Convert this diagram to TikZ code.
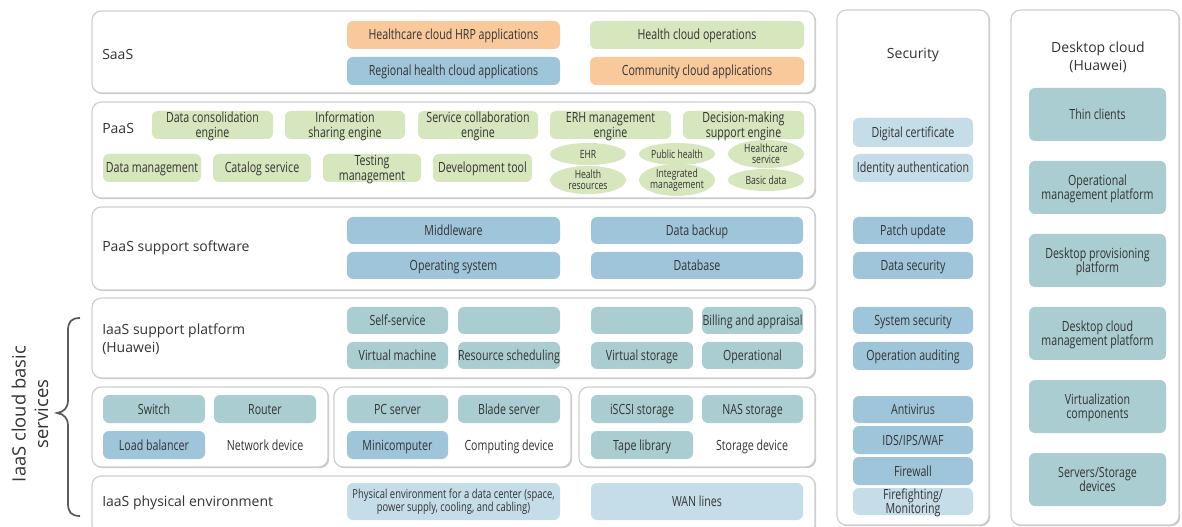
\documentclass[tikz,border=0pt]{standalone}
\usepackage{fontspec}
\setmainfont{Open Sans}
\newfontfamily\condf{Open Sans}[FakeStretch=0.76]
\usetikzlibrary{fit,shapes.geometric,shadows}

\definecolor{ink}{HTML}{333333}
\definecolor{panelline}{HTML}{CFCFCF}
\definecolor{orangeF}{HTML}{F9C99C}
\definecolor{blueF}{HTML}{9FC5DA}
\definecolor{greenF}{HTML}{D6E6BD}
\definecolor{tealF}{HTML}{AACDD1}
\definecolor{lblueF}{HTML}{C4DDE9}
\definecolor{braceC}{HTML}{5A5A5A}

% struts that keep capitals centred in a box, descenders or not
\newcommand\topstrut{\rule{0pt}{10.5pt}}
\newcommand\botstrut{\rule[-3pt]{0pt}{3pt}}
% block: name, style, x1, y1, x2, y2, text
\newcommand\blk[7]{\node[#2, fit={(#3,#4)(#5,#6)}, inner sep=0pt,
  label={[boxtext]center:{\topstrut#7\botstrut}}] (#1) {};}

\begin{document}
\begin{tikzpicture}[x=0.75pt,y=-0.75pt,
  every node/.style={text=ink},
  panel/.style={draw=panelline, line width=0.9pt, fill=white, rounded corners=7pt,
    drop shadow={shadow xshift=0.9pt, shadow yshift=-0.9pt, opacity=0.22, fill=black}},
  box/.style={rounded corners=4.5pt, draw=none},
  orangebox/.style={box, fill=orangeF},
  bluebox/.style={box, fill=blueF},
  greenbox/.style={box, fill=greenF},
  tealbox/.style={box, fill=tealF},
  lbluebox/.style={box, fill=lblueF},
  boxtext/.style={font=\condf\fontsize{10.5}{11}\selectfont, align=center, inner sep=0pt, text=ink},
  smalltext/.style={font=\condf\fontsize{9.3}{9.8}\selectfont, align=center, inner sep=0pt, text=ink},
  oval/.style={ellipse, fill=greenF, draw=none, minimum width=57pt, minimum height=16.5pt,
    inner sep=0pt, font=\condf\fontsize{8.5}{8.4}\selectfont, align=center},
  layertext/.style={font=\fontsize{10.5}{13.5}\selectfont, anchor=west, align=left, inner sep=0pt},
  plain/.style={font=\condf\fontsize{10.5}{11}\selectfont, inner sep=0pt}
]
\useasboundingbox (0,0) rectangle (1182,527);

% ---------- layer panels ----------
\node[panel, inner sep=0pt, fit={(92,11)(815,93)}] (saasP) {};
\node[panel, inner sep=0pt, fit={(92,102)(815,198)}] (paasP) {};
\node[panel, inner sep=0pt, fit={(92,207)(815,290)}] (pssP) {};
\node[panel, inner sep=0pt, fit={(92,298)(815,378)}] (ispP) {};
\node[panel, inner sep=0pt, fit={(92,387)(328,467)}] (netP) {};
\node[panel, inner sep=0pt, fit={(334,387)(571,467)}] (compP) {};
\node[panel, inner sep=0pt, fit={(579,387)(815,467)}] (storP) {};
\node[panel, inner sep=0pt, fit={(92,476)(815,535)}] (physP) {};
\node[panel, inner sep=0pt, fit={(837,10)(989,525)}] (secP) {};
\node[panel, inner sep=0pt, fit={(1011,10)(1179,525)}] (deskP) {};

% ---------- layer titles ----------
\node[layertext] (saasT) at (102,55) {SaaS};
\node[layertext] (paasT) at (102,129) {PaaS};
\node[layertext] (pssT) at (102,248) {PaaS support software};
\node[layertext] (ispT) at (102,339) {IaaS support platform\\(Huawei)};
\node[layertext] (physT) at (102,503) {IaaS physical environment};
\node[font=\fontsize{10.5}{13.5}\selectfont] (secT) at (913,55) {Security};
\node[font=\fontsize{10.5}{13.5}\selectfont, align=center] (deskT) at (1098,57) {Desktop cloud\\(Huawei)};

% ---------- SaaS ----------
\blk{hrp}{orangebox}{347}{21}{560}{49}{Healthcare cloud HRP applications}
\blk{rhc}{bluebox}{347}{57}{560}{85}{Regional health cloud applications}
\blk{hco}{greenbox}{590}{21}{804}{49}{Health cloud operations}
\blk{cca}{orangebox}{590}{57}{804}{85}{Community cloud applications}

% ---------- PaaS ----------
\blk{dce}{greenbox}{152}{111}{273}{139}{Data consolidation\\engine}
\blk{ise}{greenbox}{285}{111}{405}{139}{Information\\sharing engine}
\blk{sce}{greenbox}{418}{111}{538}{139}{Service collaboration\\engine}
\blk{erh}{greenbox}{550}{111}{671}{139}{ERH management\\engine}
\blk{dms}{greenbox}{683}{111}{804}{139}{Decision-making\\support engine}
\blk{dm}{greenbox}{103}{154}{201}{182}{Data management}
\blk{cs}{greenbox}{213}{154}{311}{182}{Catalog service}
\blk{tm}{greenbox}{323}{154}{421}{182}{Testing\\management}
\blk{dt}{greenbox}{433}{154}{532}{182}{Development tool}
\node[oval] (ehr) at (588,154) {EHR};
\node[oval] (ph) at (677,154) {Public health};
\node[oval] (hs) at (766,154) {Healthcare\\service};
\node[oval] (hr) at (588,180) {Health\\resources};
\node[oval] (im) at (677,180) {Integrated\\management};
\node[oval] (bd) at (766,180) {Basic data};

% ---------- PaaS support software ----------
\blk{mw}{bluebox}{347}{217}{560}{244}{Middleware}
\blk{os}{bluebox}{347}{252}{560}{279}{Operating system}
\blk{bk}{bluebox}{591}{217}{803}{244}{Data backup}
\blk{dbs}{bluebox}{591}{252}{803}{279}{Database}

% ---------- IaaS support platform ----------
\blk{ss}{tealbox}{347}{307}{448}{334}{Self-service}
\blk{e1}{tealbox}{458}{307}{560}{334}{}
\blk{e2}{tealbox}{591}{307}{693}{334}{}
\blk{ba}{tealbox}{702}{307}{803}{334}{Billing and appraisal}
\blk{vm}{tealbox}{347}{342}{448}{369}{Virtual machine}
\blk{rs}{tealbox}{458}{342}{560}{369}{Resource scheduling}
\blk{vs}{tealbox}{591}{342}{693}{369}{Virtual storage}
\blk{op}{tealbox}{702}{342}{803}{369}{Operational}

% ---------- devices ----------
\blk{sw}{tealbox}{103}{395}{205}{423}{Switch}
\blk{rt}{tealbox}{214}{395}{316}{423}{Router}
\blk{lb}{bluebox}{103}{431}{205}{459}{Load balancer}
\node[plain] (netL) at (265,445) {\topstrut Network device\botstrut};
\blk{pc}{tealbox}{347}{395}{448}{423}{PC server}
\blk{bs}{tealbox}{458}{395}{560}{423}{Blade server}
\blk{mc}{bluebox}{347}{431}{448}{459}{Minicomputer}
\node[plain] (compL) at (509,445) {\topstrut Computing device\botstrut};
\blk{is}{tealbox}{591}{395}{693}{423}{iSCSI storage}
\blk{nas}{tealbox}{702}{395}{803}{423}{NAS storage}
\blk{tl}{tealbox}{591}{431}{693}{459}{Tape library}
\node[plain] (storL) at (752,445) {\topstrut Storage device\botstrut};

% ---------- physical environment ----------
\node[lbluebox, fit={(347,483)(560,520)}, inner sep=0pt,
  label={[smalltext]center:{Physical environment for a data center (space,\\power supply, cooling, and cabling)}}] (pe) {};
\blk{wan}{lbluebox}{591}{483}{803}{520}{WAN lines}

% ---------- security ----------
\blk{dc}{lbluebox}{853}{118}{973}{147}{Digital certificate}
\blk{ia}{lbluebox}{853}{154}{973}{182}{Identity authentication}
\blk{pu}{bluebox}{853}{217}{973}{244}{Patch update}
\blk{ds}{bluebox}{853}{252}{973}{279}{Data security}
\blk{sys}{bluebox}{853}{307}{973}{334}{System security}
\blk{oa}{bluebox}{853}{342}{973}{370}{Operation auditing}
\blk{av}{bluebox}{853}{396}{973}{423}{Antivirus}
\blk{ids}{bluebox}{853}{426}{973}{454}{IDS/IPS/WAF}
\blk{fw}{bluebox}{853}{457}{973}{485}{Firewall}
\blk{ff}{lbluebox}{853}{488}{973}{515}{Firefighting/\\Monitoring}

% ---------- desktop cloud ----------
\blk{tc}{tealbox}{1029}{88}{1166}{141}{Thin clients}
\blk{omp}{tealbox}{1029}{161}{1166}{214}{Operational\\management platform}
\blk{dpp}{tealbox}{1029}{234}{1166}{287}{Desktop provisioning\\platform}
\blk{dcm}{tealbox}{1029}{307}{1166}{360}{Desktop cloud\\management platform}
\blk{vc}{tealbox}{1029}{380}{1166}{433}{Virtualization\\components}
\blk{ssd}{tealbox}{1029}{453}{1166}{506}{Servers/Storage\\devices}

% ---------- IaaS brace and caption ----------
\draw[braceC, line width=1.3pt]
  (80,318) .. controls (71,318) and (68,322) .. (68,331)
  -- (68,400) .. controls (68,408) and (64,412) .. (57,413)
  .. controls (64,414) and (68,418) .. (68,426)
  -- (68,503) .. controls (68,512) and (71,516) .. (80,516);
\node[rotate=90, align=center, font=\fontsize{13.8}{17}\selectfont] (iaasT) at (30,414) {IaaS cloud basic\\services};
\end{tikzpicture}
\end{document}
